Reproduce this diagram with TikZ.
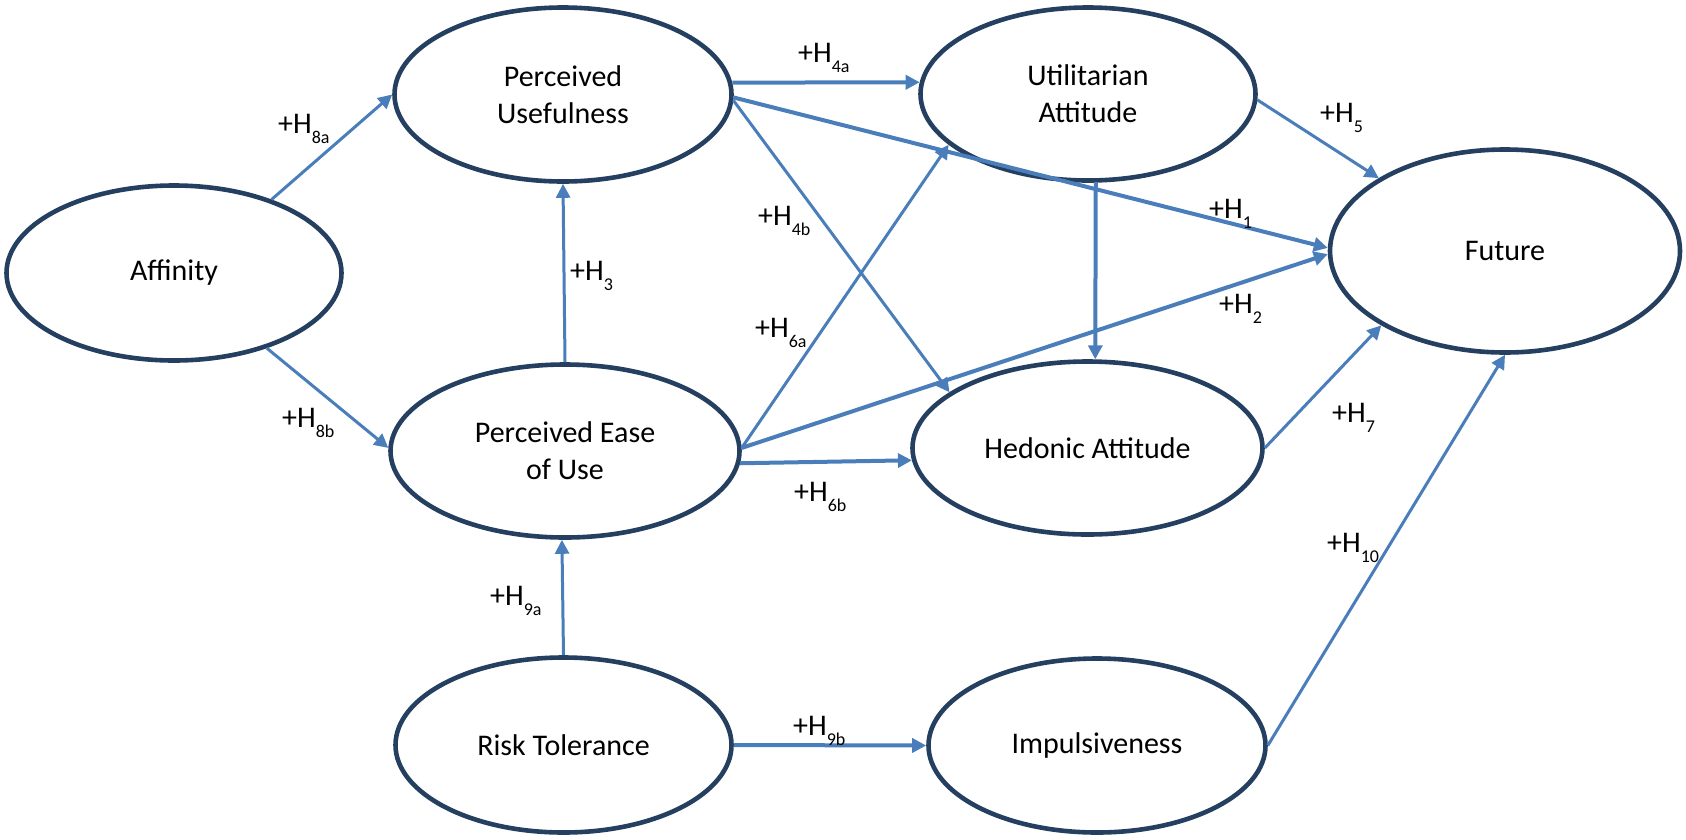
\documentclass[tikz,border=0pt]{standalone}
\usepackage{fontspec}
\setmainfont{Carlito}
\usetikzlibrary{arrows.meta,shapes.geometric}
\definecolor{navy}{HTML}{243F60}
\definecolor{arr}{HTML}{4A7EBB}
\newcommand\Hs[1]{+H\raisebox{-10.5pt}{\fontsize{18}{18}\selectfont #1}}
\begin{document}
\begin{tikzpicture}[x=1pt,y=-1pt,
  construct/.style={ellipse, draw=navy, line width=4.6pt, fill=white, inner sep=0pt, align=center, font=\fontsize{30}{37}\selectfont},
  link/.style={draw=arr, line width=3pt, -{Triangle[length=14pt,width=14pt]}},
  thicklink/.style={link, line width=4pt},
  hyp/.style={anchor=base west, inner sep=0pt, font=\fontsize{30}{37}\selectfont}]
\useasboundingbox (0,0) rectangle (1686,839);
\node[construct, minimum width=335pt, minimum height=175pt] (aff) at (174,273) {Affinity};
\node[construct, minimum width=337pt, minimum height=174pt] (pu) at (563,94.5) {Perceived\\Usefulness};
\node[construct, minimum width=349pt, minimum height=173pt] (peu) at (565,451) {Perceived Ease\\of Use};
\node[construct, minimum width=336pt, minimum height=175pt] (risk) at (563.5,745) {Risk Tolerance};
\node[construct, minimum width=335pt, minimum height=173pt] (util) at (1088,94) {Utilitarian\\Attitude};
\node[construct, minimum width=350pt, minimum height=203pt] (fut) at (1505,251) {Future};
\node[construct, minimum width=350pt, minimum height=173pt] (hed) at (1087.5,448) {Hedonic Attitude};
\node[construct, minimum width=337pt, minimum height=174pt] (imp) at (1097,745.5) {Impulsiveness};

\draw[link] (aff.37) -- (pu.west);
\draw[link] (aff.-39) -- (peu.179);
\draw[link] (peu.north) -- (pu.south);
\draw[thicklink] (pu.4) -- (util.176);
\draw[thicklink] (pu.-1) -- (fut.179);
\draw[link] (pu.-2) -- (hed.158.5);
\draw[link] (peu.1) -- (util.200);
\draw[thicklink] (peu.1) -- (fut.181);
\draw[thicklink] (peu.-4) -- (hed.184);
\draw[thicklink] (util.-85) -- (hed.85);
\draw[link] (util.-2) -- (fut.150);
\draw[link] (hed.east) -- (fut.211);
\draw[link] (imp.east) -- (fut.south);
\draw[link] (risk.north) -- (peu.268);
\draw[thicklink] (risk.east) -- (imp.west);

\node[hyp] (l8a) at (278,133) {\Hs{8a}};
\node[hyp] (l8b) at (282,427) {\Hs{8b}};
\node[hyp] (l3) at (570,280) {\Hs{3}};
\node[hyp] (l4a) at (798,62) {\Hs{4a}};
\node[hyp] (l4b) at (758,225) {\Hs{4b}};
\node[hyp] (l6a) at (755,337) {\Hs{6a}};
\node[hyp] (l6b) at (794,501) {\Hs{6b}};
\node[hyp] (l1) at (1209,218) {\Hs{1}};
\node[hyp] (l2) at (1219,313) {\Hs{2}};
\node[hyp] (l5) at (1320,122) {\Hs{5}};
\node[hyp] (l7) at (1332,422) {\Hs{7}};
\node[hyp] (l10) at (1327,552) {\Hs{10}};
\node[hyp] (l9a) at (490,605) {\Hs{9a}};
\node[hyp] (l9b) at (793,735) {\Hs{9b}};
\end{tikzpicture}
\end{document}
